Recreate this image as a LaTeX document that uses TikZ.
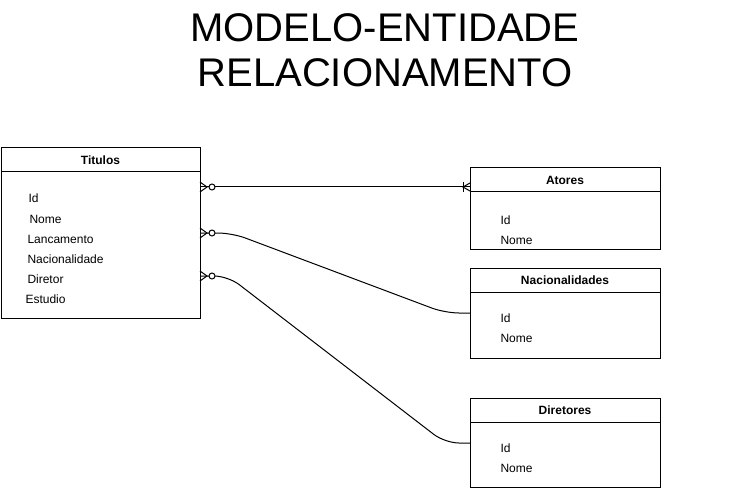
\documentclass[tikz,border=0pt]{standalone}
\usepackage{fontspec}
\setmainfont{Liberation Sans}
\usetikzlibrary{calc}

\begin{document}
\begin{tikzpicture}[x=1pt, y=-1pt, line width=1pt,
    head/.style={draw, anchor=north west, minimum width=#1, minimum height=24,
                 inner sep=0pt, outer sep=0pt, font=\fontsize{12}{14}\selectfont\bfseries},
    body/.style={draw, anchor=north, minimum width=#1, inner sep=0pt, outer sep=0pt},
    field/.style={anchor=base west, inner sep=0pt, font=\fontsize{12}{14}\selectfont},
    heading/.style={anchor=base, inner sep=0pt, font=\fontsize{40}{45}\selectfont}]
  \useasboundingbox (0,0) rectangle (741,489);
  \node[heading] (title1) at (385,42) {MODELO-ENTIDADE};
  \node[heading] (title2) at (385,87) {RELACIONAMENTO};
  % main table
  \node[head=199] (tith) at (1,148) {Titulos};
  \node[body=199, minimum height=146] (titb) at (tith.south) {};
  \foreach \f/\x [count=\i] in {Id/28, Nome/29, Lancamento/27, Nacionalidade/27, Diretor/27, Estudio/25}
    \node[field] (titf\i) at (\x, {183+20*\i}) {\f};
  % side tables
  \foreach \n/\lbl/\y/\h/\fy in {ator/Atores/168/57/204, nac/Nacionalidades/268/66/302, dir/Diretores/398/65/432}{
    \node[head=190] (\n h) at (470,\y) {\lbl};
    \node[body=190, minimum height=\h] (\n b) at (\n h.south) {};
    \foreach \f [count=\i] in {Id,Nome}
      \node[field] (\n f\i) at (500, {\fy+20*\i}) {\f};
  }
  \coordinate (t1) at ($(titb.north east)+(0,15)$);
  \coordinate (t2) at ($(titb.north east)+(0,61)$);
  \coordinate (t3) at ($(titb.north east)+(0,104)$);
  \coordinate (a1) at ($(atorh.north west)+(0,19)$);
  \coordinate (n1) at ($(nacb.north west)+(0,21)$);
  \coordinate (d1) at ($(dirb.north west)+(0,21)$);
  \draw (t1) -- (a1);
  \draw[rounded corners=14] (t2) -- ++(32,0) -- ($(n1)+(-25,0)$) -- (n1);
  \draw[rounded corners=14] (t3) -- ++(28,0) -- ($(d1)+(-25,0)$) -- (d1);
  % zero or many
  \foreach \p in {t1,t2,t3}{
    \draw ($(\p)+(0,-5)$) -- ($(\p)+(7,0)$) -- ($(\p)+(0,5)$);
    \draw[fill=white] ($(\p)+(12,0)$) circle[radius=3];
  }
  % one or many
  \draw ($(a1)+(0,-4)$) -- ($(a1)+(-7,0)$) -- ($(a1)+(0,4)$);
  \draw ($(a1)+(-7,-5)$) -- ($(a1)+(-7,5)$);
\end{tikzpicture}
\end{document}
